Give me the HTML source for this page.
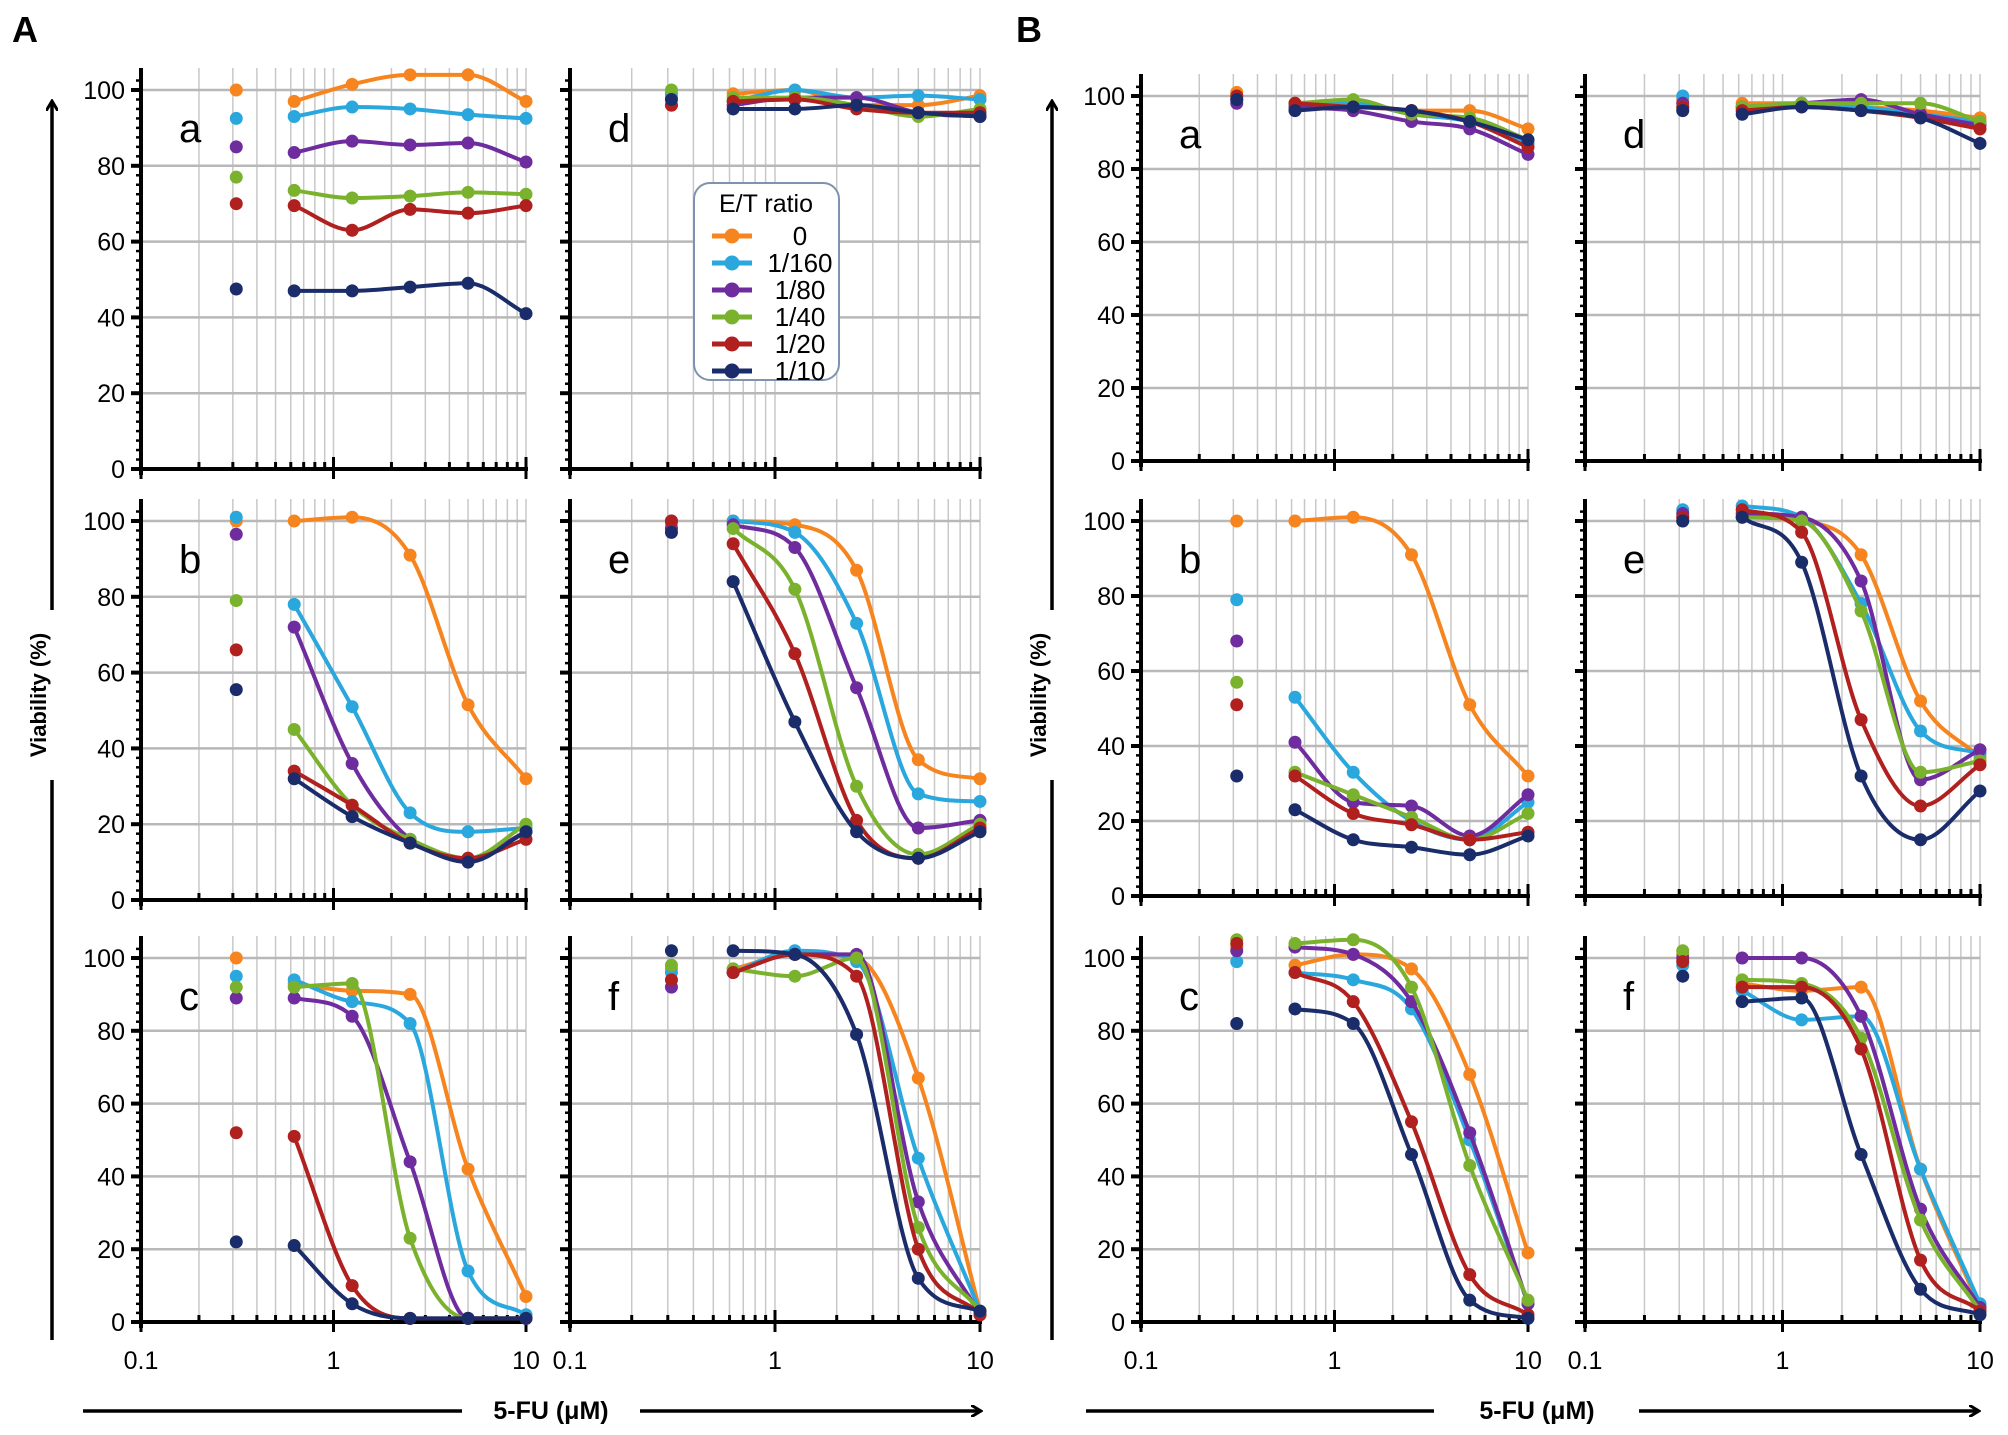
<!DOCTYPE html>
<html><head><meta charset="utf-8">
<style>
html,body{margin:0;padding:0;background:#fff;}
svg{display:block;font-family:"Liberation Sans",sans-serif;}
</style></head>
<body>
<svg id="fig" width="2008" height="1435" viewBox="0 0 2008 1435" xmlns="http://www.w3.org/2000/svg">
<defs>
<marker id="arr" markerWidth="12" markerHeight="12" refX="9" refY="6" orient="auto" markerUnits="userSpaceOnUse"><path d="M0,0 L10,6 L0,12" fill="none" stroke="#000" stroke-width="3"/></marker>
</defs>
<text x="12" y="42" font-size="36" font-weight="bold">A</text>
<text x="1016" y="42" font-size="36" font-weight="bold">B</text>
<line x1="52" y1="1340" x2="52" y2="102" stroke="#000" stroke-width="3.5" marker-end="url(#arr)"/>
<rect x="30" y="610" width="44" height="170" fill="#fff"/>
<text transform="translate(46,695) rotate(-90)" text-anchor="middle" font-size="22" font-weight="bold">Viability (%)</text>
<line x1="1052" y1="1340" x2="1052" y2="102" stroke="#000" stroke-width="3.5" marker-end="url(#arr)"/>
<rect x="1030" y="610" width="44" height="170" fill="#fff"/>
<text transform="translate(1046,695) rotate(-90)" text-anchor="middle" font-size="22" font-weight="bold">Viability (%)</text>
<line x1="83" y1="1411" x2="462" y2="1411" stroke="#000" stroke-width="3.5"/>
<line x1="640" y1="1411" x2="980" y2="1411" stroke="#000" stroke-width="3.5" marker-end="url(#arr)"/>
<text x="551" y="1419" text-anchor="middle" font-size="25" font-weight="bold">5-FU (μM)</text>
<line x1="1086" y1="1411" x2="1434" y2="1411" stroke="#000" stroke-width="3.5"/>
<line x1="1639" y1="1411" x2="1978" y2="1411" stroke="#000" stroke-width="3.5" marker-end="url(#arr)"/>
<text x="1537" y="1419" text-anchor="middle" font-size="25" font-weight="bold">5-FU (μM)</text>
</svg>
<script>
const xValues = [0.3125, 0.625, 1.25, 2.5, 5, 10];
const seriesNames = ["0", "1/160", "1/80", "1/40", "1/20", "1/10"];
const yTicks = [0, 20, 40, 60, 80, 100];
const xTickLabels = ["0.1", "1", "10"];
const A_a = [[100,97,101.5,104,104,97],[92.5,93,95.5,95,93.5,92.5],[85,83.5,86.5,85.5,86,81],[77,73.5,71.5,72,73,72.5],[70,69.5,63,68.5,67.5,69.5],[47.5,47,47,48,49,41]];
const A_d = [[98,99,100,96,96,98.5],[99,97,100,98,98.5,97.5],[96,96,98,98,94,93],[100,98,98,96,93,95],[96,97,97.5,95,94,94],[97.5,95,95,96,94,93]];
const A_b = [[100,100,101,91,51.5,32],[101,78,51,23,18,19],[96.5,72,36,16,11,18],[79,45,25,16,11,20],[66,34,25,15,11,16],[55.5,32,22,15,10,18]];
const A_e = [[99,100,99,87,37,32],[100,100,97,73,28,26],[98,99,93,56,19,21],[100,98,82,30,12,20],[100,94,65,21,11,19],[97,84,47,18,11,18]];
const A_c = [[100,93,91,90,42,7],[95,94,88,82,14,2],[89,89,84,44,1,1],[92,92,93,23,1,1],[52,51,10,1,1,1],[22,21,5,1,1,1]];
const A_f = [[97,97,101,100,67,3],[96,96,102,99,45,3],[92,96,101,101,33,2],[98,97,95,100,26,3],[94,96,101,95,20,2],[102,102,101,79,12,3]];
const B_a = [[101,98,98,96,96,91],[99,97,98,95,93,87],[98,97,96,93,91,84],[100,98,99,95,94,88],[100,98,97,96,93,86],[99,96,97,96,93,88]];
const B_d = [[99,98,98,97,96,94],[100,97,98,97,95,93],[98,97,98,99,95,92],[97,97,98,98,98,93],[97,96,97,96,94,91],[96,95,97,96,94,87]];
const B_b = [[100,100,101,91,51,32],[79,53,33,20,15,25],[68,41,25,24,16,27],[57,33,27,21,15,22],[51,32,22,19,15,17],[32,23,15,13,11,16]];
const B_e = [[101,101,100,91,52,37],[103,104,101,78,44,38],[102,102,101,84,31,39],[100,101,100,76,33,36],[101,103,97,47,24,35],[100,101,89,32,15,28]];
const B_c = [[103,98,101,97,68,19],[99,96,94,86,50,5],[102,103,101,88,52,5],[105,104,105,92,43,6],[104,96,88,55,13,2],[82,86,82,46,6,1]];
const B_f = [[101,93,91,92,42,4],[98,91,83,84,42,5],[100,100,100,84,31,4],[102,94,93,78,28,3],[99,92,92,75,17,3],[95,88,89,46,9,2]];

const colors = ["#F7851F","#2AA7DD","#6E2C9E","#7AB22E","#B0201E","#1B2C6B"];
const NS = "http://www.w3.org/2000/svg";
const svg = document.getElementById("fig");
function mk(tag, attrs, parent){ const e=document.createElementNS(NS,tag); for(const k in attrs) e.setAttribute(k,attrs[k]); (parent||svg).appendChild(e); return e; }

const panels = [
 {id:"A-a", letter:"a", data:A_a, x0:141, x1:526, y100:90, y0:469, labels:true},
 {id:"A-d", letter:"d", data:A_d, x0:570, x1:980, y100:90, y0:469, labels:false, legend:true},
 {id:"A-b", letter:"b", data:A_b, x0:141, x1:526, y100:521, y0:900, labels:true},
 {id:"A-e", letter:"e", data:A_e, x0:570, x1:980, y100:521, y0:900, labels:false},
 {id:"A-c", letter:"c", data:A_c, x0:141, x1:526, y100:958, y0:1322, labels:true, xlabels:true},
 {id:"A-f", letter:"f", data:A_f, x0:570, x1:980, y100:958, y0:1322, labels:false, xlabels:true},
 {id:"B-a", letter:"a", data:B_a, x0:1141, x1:1528, y100:96, y0:461, labels:true},
 {id:"B-d", letter:"d", data:B_d, x0:1585, x1:1980, y100:96, y0:461, labels:false},
 {id:"B-b", letter:"b", data:B_b, x0:1141, x1:1528, y100:521, y0:896, labels:true},
 {id:"B-e", letter:"e", data:B_e, x0:1585, x1:1980, y100:521, y0:896, labels:false},
 {id:"B-c", letter:"c", data:B_c, x0:1141, x1:1528, y100:958, y0:1322, labels:true, xlabels:true},
 {id:"B-f", letter:"f", data:B_f, x0:1585, x1:1980, y100:958, y0:1322, labels:false, xlabels:true}
];

function smoothPath(pts){
  const n=pts.length, dx=[], s=[], m=[];
  for(let i=0;i<n-1;i++){ dx.push(pts[i+1][0]-pts[i][0]); s.push((pts[i+1][1]-pts[i][1])/dx[i]); }
  m[0]=s[0]; m[n-1]=s[n-2];
  for(let i=1;i<n-1;i++){ m[i] = (s[i-1]*s[i]<=0) ? 0 : (s[i-1]+s[i])/2; }
  for(let i=0;i<n-1;i++){
    if(s[i]===0){ m[i]=0; m[i+1]=0; continue; }
    const a=m[i]/s[i], b=m[i+1]/s[i], h=a*a+b*b;
    if(h>9){ const t=3/Math.sqrt(h); m[i]=t*a*s[i]; m[i+1]=t*b*s[i]; }
  }
  let d="M"+pts[0][0]+","+pts[0][1];
  for(let i=0;i<n-1;i++){
    const h=dx[i]/3;
    d+=" C"+(pts[i][0]+h)+","+(pts[i][1]+m[i]*h)+" "+(pts[i+1][0]-h)+","+(pts[i+1][1]-m[i+1]*h)+" "+pts[i+1][0]+","+pts[i+1][1];
  }
  return d;
}

panels.forEach(p=>{
  const g = mk("g",{});
  
  
  const xs = v => p.x0 + (Math.log10(v)+1)/2*(p.x1-p.x0);
  const ys = v => p.y0 - v/100*(p.y0-p.y100);
  const top = p.y100 - 22;
  for(let dec=0.1; dec<10; dec*=10){
    for(let m=1;m<=10;m++){
      const v=dec*m; if(m===1 && dec>0.1) continue;
      const x=xs(v);
      mk("line",{x1:x,y1:top,x2:x,y2:p.y0,stroke:"#c8c8c8","stroke-width":1.5},g);
      mk("line",{x1:x,y1:p.y0,x2:x,y2:p.y0-(m===1||m===10?0:7),stroke:"#000","stroke-width":3},g);
    }
  }
  yTicks.forEach(t=>{
    if(t>0) mk("line",{x1:p.x0,y1:ys(t),x2:p.x1,y2:ys(t),stroke:"#b8b8b8","stroke-width":2.5},g);
    mk("line",{x1:p.x0-10,y1:ys(t),x2:p.x0,y2:ys(t),stroke:"#000","stroke-width":4},g);
    if(p.labels){
      const tl = mk("text",{x:p.x0-16,y:ys(t)+9,"text-anchor":"end","font-size":25},g);
      tl.textContent=t;
      
      
    }
  });
  for(let v=2.5; v<105; v+=2.5){ if(v%20===0) continue; mk("line",{x1:p.x0-5,y1:ys(v),x2:p.x0,y2:ys(v),stroke:"#000","stroke-width":2.5},g); }
  const ya = mk("line",{x1:p.x0,y1:top,x2:p.x0,y2:p.y0+6,stroke:"#000","stroke-width":4},g);
  
  
  const xa = mk("line",{x1:p.x0-10,y1:p.y0,x2:p.x1+2,y2:p.y0,stroke:"#000","stroke-width":4},g);
  
  
  [0.1,1,10].forEach(v=>mk("line",{x1:xs(v),y1:p.y0-12,x2:xs(v),y2:p.y0+10,stroke:"#000","stroke-width":3},g));
  if(p.xlabels){
    [0.1,1,10].forEach((v,i)=>{
      const t=mk("text",{x:xs(v),y:p.y0+47,"text-anchor":"middle","font-size":25},g);
      t.textContent=xTickLabels[i];
      
      
    });
  }
  const lt = mk("text",{x:p.x0+38,y:p.y100+52,"font-size":40},g);
  lt.textContent=p.letter;
  
  
  p.data.forEach((vals,si)=>{
    const sg = mk("g",{},g);
    
    
    const pts = vals.slice(1).map((v,i)=>[xs(xValues[i+1]), ys(v)]);
    const path = mk("path",{d:smoothPath(pts),fill:"none",stroke:colors[si],"stroke-width":4},sg);
    
    
    vals.forEach((v,i)=>{
      const c = mk("circle",{cx:xs(xValues[i]),cy:ys(v),r:6.5,fill:colors[si]},sg);
      
      
    });
  });
  if(p.legend){
    const lg = mk("g",{},g);
    
    
    mk("rect",{x:694,y:183,width:145,height:197,rx:16,fill:"#fff",stroke:"#7f93b0","stroke-width":2},lg);
    const tt = mk("text",{x:766,y:212,"text-anchor":"middle","font-size":25},lg);
    tt.textContent="E/T ratio";
    
    
    seriesNames.forEach((n,i)=>{
      const y=236+i*27;
      const e = mk("g",{},lg);
      
      
      mk("line",{x1:712,y1:y,x2:752,y2:y,stroke:colors[i],"stroke-width":5},e);
      mk("circle",{cx:732,cy:y,r:7.5,fill:colors[i]},e);
      const t = mk("text",{x:800,y:y+9,"text-anchor":"middle","font-size":26},e);
      t.textContent=n;
    });
  }
});
</script>
</body></html>
